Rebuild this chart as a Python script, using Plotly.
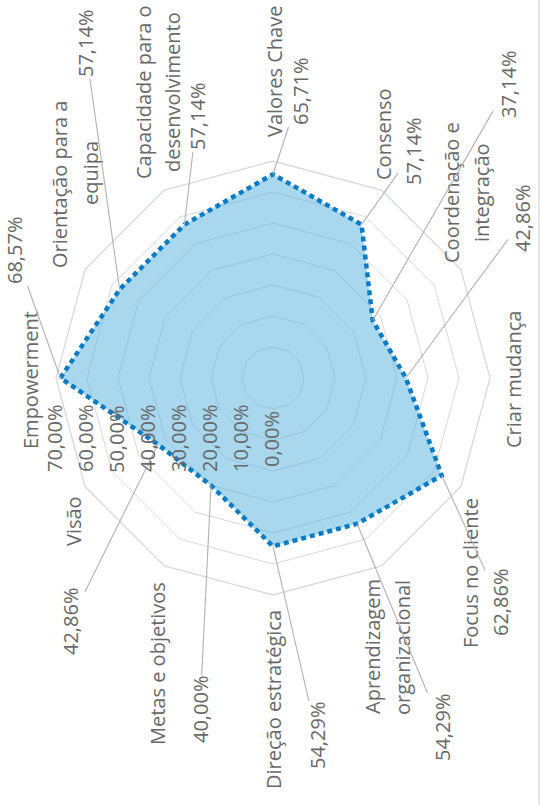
import math
import textwrap
import plotly.graph_objects as go

# ---- data -------------------------------------------------------------
categories = [
    "Empowerment",
    "Orientação para a equipa",
    "Capacidade para o desenvolvimento",
    "Valores Chave",
    "Consenso",
    "Coordenação e integração",
    "Criar mudança",
    "Focus no cliente",
    "Aprendizagem organizacional",
    "Direção estratégica",
    "Metas e objetivos",
    "Visão",
]
values = [68.57, 57.14, 57.14, 65.71, 57.14, 37.14, 42.86, 62.86, 54.29, 54.29, 40.00, 42.86]
radial_ticks = [0, 10, 20, 30, 40, 50, 60, 70]


def pct(v):
    return f"{v:.2f}".replace(".", ",") + "%"


# ---- page geometry (pixels) --------------------------------------------
W, H = 547, 805
CX, CY = 273, 378          # centre of the radar
R = 217                    # radius of the outer ring
RMAX = 70                  # value at the outer ring
FIRST_ANGLE = 180          # first category points left, then clockwise
STEP = 360 / len(categories)

TEXT = "#686868"
LEADER = "#b2b2b2"
GRID = "rgb(214,217,221)"
FONT = dict(family="Open Sans", size=20, color=TEXT)

# centre of every line of each category name, and of each value label
cat_pos = [
    [(30, 380)],
    [(59, 185), (90, 173)],
    [(143, 92), (172, 92)],
    [(274, 72)],
    [(383, 135)],
    [(452, 193), (482, 193)],
    [(513, 380)],
    [(470, 573)],
    [(372, 647), (402, 648)],
    [(273, 700)],
    [(157, 664)],
    [(73, 521)],
]
val_pos = [(15, 251), (85, 44), (197, 117), (300, 92), (413, 152), (508, 85),
           (523, 219), (500, 603), (442, 728), (317, 736), (200, 710), (70, 622)]
tick_label_y = 439

fig = go.Figure()

fig.add_trace(go.Scatterpolar(
    r=values + values[:1],
    theta=categories + categories[:1],
    mode="lines",
    fill="toself",
    fillcolor="rgba(97,182,224,0.55)",
    line=dict(color="#0b7bc4", width=4.5, dash="5px,4px"),
    hoverinfo="skip",
    showlegend=False,
))

fig.update_layout(
    width=W, height=H, autosize=False,
    margin=dict(l=0, r=0, t=0, b=0),
    paper_bgcolor="white",
    font=FONT,
    polar=dict(
        domain=dict(x=[(CX - R) / W, (CX + R) / W],
                    y=[1 - (CY + R) / H, 1 - (CY - R) / H]),
        bgcolor="rgba(0,0,0,0)",
        gridshape="linear",
        radialaxis=dict(range=[0, RMAX], tickvals=radial_ticks, showticklabels=False,
                        ticks="", showline=False, gridcolor=GRID, gridwidth=1.3),
        angularaxis=dict(type="category", categoryarray=categories,
                         direction="clockwise", rotation=FIRST_ANGLE,
                         showticklabels=False, ticks="", showgrid=False,
                         showline=True, linecolor=GRID, linewidth=1.3),
    ),
)


def point_px(i, v):
    a = math.radians(FIRST_ANGLE - STEP * i)
    d = v / RMAX * R
    return CX + d * math.cos(a), CY - d * math.sin(a)


annotations = []

# category names, one annotation per wrapped line
for name, spots in zip(categories, cat_pos):
    for line, (lx, ly) in zip(textwrap.wrap(name, 19), spots):
        annotations.append(dict(
            text=line, x=lx / W, y=1 - ly / H, xref="paper", yref="paper",
            xanchor="center", yanchor="middle", textangle=-90,
            showarrow=False, font=FONT))

# value labels joined to their point by a leader line
for i, (v, (lx, ly)) in enumerate(zip(values, val_pos)):
    px, py = point_px(i, v)
    annotations.append(dict(
        text=pct(v), x=px / W, y=1 - py / H, xref="paper", yref="paper",
        ax=lx - px, ay=ly - py, axref="pixel", ayref="pixel",
        textangle=-90, showarrow=True, arrowhead=0, arrowwidth=1.1,
        arrowcolor=LEADER, standoff=0, startstandoff=0, font=FONT))

# radial scale labels along the first spoke
for t in radial_ticks:
    annotations.append(dict(
        text=pct(t), x=(CX - 2 - t / RMAX * R) / W, y=1 - tick_label_y / H,
        xref="paper", yref="paper", xanchor="center", yanchor="middle",
        textangle=-90, showarrow=False, font=FONT))

fig.update_layout(annotations=annotations)

# page edge on the right
fig.add_shape(type="line", xref="paper", yref="paper", x0=539 / W, x1=539 / W,
              y0=0, y1=1, line=dict(color="#dcdcdc", width=1.5))

fig.write_html("out.html")
